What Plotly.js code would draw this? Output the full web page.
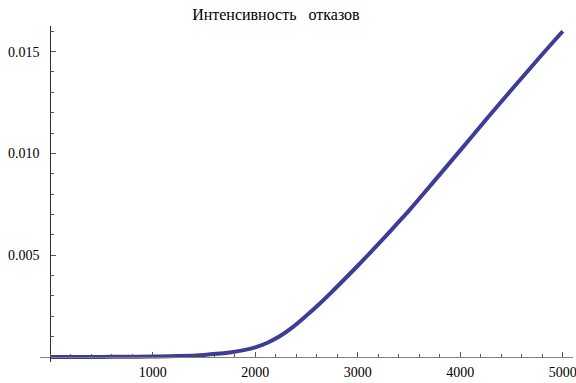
<!DOCTYPE html>
<html>
<head>
<meta charset="utf-8">
<script src="https://cdn.plot.ly/plotly-3.0.1.min.js"></script>
<style>html,body{margin:0;padding:0;background:#fff;}#chart{width:576px;height:383px;}</style>
</head>
<body>
<div id="chart"></div>
<script>
// Time (hours)
const timeValues = [0, 250, 500, 750, 1000, 1250, 1500, 1625, 1750, 1875, 2000, 2125, 2250, 2375, 2500, 2625, 2750, 2875, 3000, 3125, 3250, 3375, 3500, 3750, 4000, 4250, 4500, 4750, 5000];
// Failure rate
const failureRate = [0, 0, 0, 0.00001, 0.00002, 0.00004, 0.0001, 0.00015, 0.00022, 0.00032, 0.00047, 0.00071, 0.00105, 0.0015, 0.00203, 0.0026, 0.00321, 0.00384, 0.00448, 0.00514, 0.00581, 0.0065, 0.00719, 0.00866, 0.01015, 0.01165, 0.01313, 0.01458, 0.0160];
const yTickVals = [0.005, 0.010, 0.015];
const yTickText = ["0.005", "0.010", "0.015"];
const xTickVals = [1000, 2000, 3000, 4000, 5000];
const xTickText = ["1000", "2000", "3000", "4000", "5000"];
const titleText = "Интенсивность\u00a0\u00a0\u00a0отказов";

const xRange = [-100, 5100];
const yRange = [-0.00025, 0.01626];
const xZeroFrac = (0 - xRange[0]) / (xRange[1] - xRange[0]);
const yZeroFrac = (0 - yRange[0]) / (yRange[1] - yRange[0]);

const fam = "'Liberation Serif', 'DejaVu Serif', serif";
const font = {family: fam, size: 14, color: "#000"};
const axisColor = "#555";

const trace = {
  x: timeValues, y: failureRate, type: "scatter", mode: "lines",
  line: {color: "rgb(61,61,153)", width: 4, shape: "spline", smoothing: 1},
  hoverinfo: "none"
};

const layout = {
  width: 576, height: 383,
  margin: {l: 40, r: 3, t: 26, b: 21},
  paper_bgcolor: "#fff", plot_bgcolor: "#fff",
  showlegend: false,
  font: font,
  title: {text: titleText, font: {family: fam, size: 16, color: "#000"},
          xref: "container", x: 0.479, xanchor: "center", yref: "container", y: 0.963, yanchor: "middle"},
  xaxis: {
    range: xRange, anchor: "free", position: yZeroFrac,
    showgrid: false, zeroline: false, showline: true, linecolor: "#808080", linewidth: 1,
    tickmode: "array", tickvals: xTickVals, ticktext: xTickText,
    ticks: "inside", ticklen: 5, tickcolor: axisColor, tickwidth: 1,
    minor: {tickmode: "linear", tick0: 0, dtick: 200, ticks: "inside", ticklen: 3, tickcolor: axisColor},
    tickfont: font, ticklabelstandoff: 2, ticklabeloverflow: "allow"
  },
  yaxis: {
    range: yRange, anchor: "free", position: xZeroFrac,
    showgrid: false, zeroline: false, showline: true, linecolor: "#333", linewidth: 1,
    tickmode: "array", tickvals: yTickVals, ticktext: yTickText,
    ticks: "inside", ticklen: 5, tickcolor: axisColor, tickwidth: 1,
    minor: {tickmode: "linear", tick0: 0, dtick: 0.001, ticks: "inside", ticklen: 3, tickcolor: axisColor},
    tickfont: font, ticklabelstandoff: 8, ticklabeloverflow: "allow"
  }
};

Plotly.newPlot("chart", [trace], layout, {staticPlot: true, displayModeBar: false});
</script>
</body>
</html>
